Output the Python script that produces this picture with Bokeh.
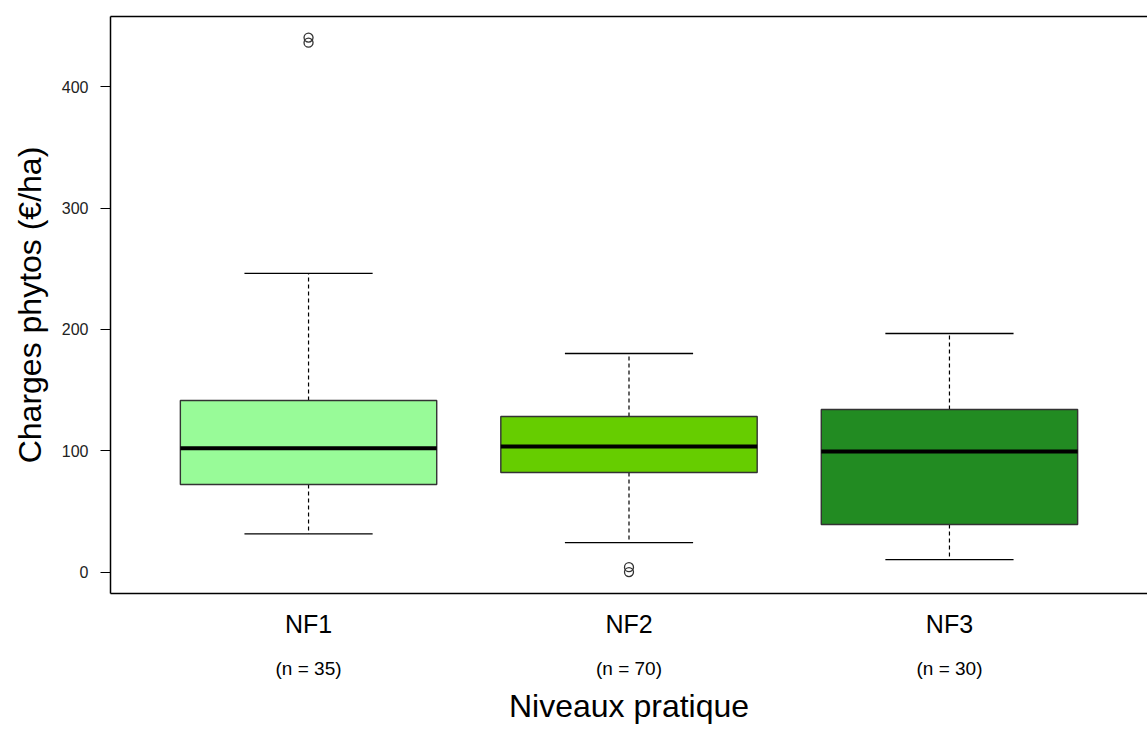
import numpy as np
from bokeh.plotting import figure
from bokeh.models import Range1d, FixedTicker, LinearAxis
from bokeh.embed import file_html
from bokeh.resources import INLINE

# ---- data ----
categories = ["NF1", "NF2", "NF3"]
counts = [35, 70, 30]
positions = [1, 2, 3]
lower_whisker = [31.5, 24.3, 10.3]
q1 = [72.2, 82.1, 39.2]
median = [102.1, 103.5, 99.4]
q3 = [141.4, 128.2, 134.0]
upper_whisker = [246.2, 180.2, 196.7]
box_colors = ["#98FB98", "#66CD00", "#228B22"]
outlier_x = [1, 1, 2, 2]
outlier_y = [436.5, 440.7, 0.0, 4.0]
y_ticks = [0, 100, 200, 300, 400]

FONT = "Liberation Sans"
BOX_W = 0.8
CAP_W = 0.4

p = figure(frame_width=1037, frame_height=577,
           min_border_left=110, min_border_right=0, min_border_top=16, min_border_bottom=0,
           x_range=Range1d(0.382, 3.618), y_range=Range1d(-17.7, 458.1),
           output_backend="svg", toolbar_location=None)
p.outline_line_color = None
p.xgrid.visible = False
p.ygrid.visible = False
p.background_fill_color = "white"
p.border_fill_color = "white"

pos = np.array(positions, dtype=float)

# whiskers (dashed)
p.segment(x0=pos, y0=q3, x1=pos, y1=upper_whisker, line_color="black", line_width=1.2, line_dash="4 3")
p.segment(x0=pos, y0=q1, x1=pos, y1=lower_whisker, line_color="black", line_width=1.2, line_dash="4 3")
# caps
p.segment(x0=pos - CAP_W / 2, y0=upper_whisker, x1=pos + CAP_W / 2, y1=upper_whisker, line_color="black", line_width=1.3)
p.segment(x0=pos - CAP_W / 2, y0=lower_whisker, x1=pos + CAP_W / 2, y1=lower_whisker, line_color="black", line_width=1.3)
# boxes
p.vbar(x=pos, top=q3, bottom=q1, width=BOX_W, fill_color=box_colors, line_color="#333333", line_width=1.4)
# medians
p.segment(x0=pos - BOX_W / 2, y0=median, x1=pos + BOX_W / 2, y1=median, line_color="black", line_width=4, line_cap="butt")
# outliers
p.scatter(outlier_x, outlier_y, marker="circle", size=9, fill_color=None, line_color="#333333", line_width=1.3)

# y axis
ya = p.yaxis[0]
ya.ticker = FixedTicker(ticks=y_ticks)
ya.major_tick_out = 10
ya.major_tick_in = 0
ya.minor_tick_out = 0
ya.minor_tick_in = 0
ya.axis_line_color = "black"
ya.axis_line_width = 1.5
ya.major_tick_line_color = "black"
ya.major_label_text_font = FONT
ya.major_label_text_font_size = "16px"
ya.major_label_text_color = "#222222"
ya.major_label_standoff = 12
ya.major_label_orientation = "horizontal"
ya.axis_label = "Charges phytos (€/ha)"
ya.axis_label_text_font = FONT
ya.axis_label_text_font_size = "32px"
ya.axis_label_text_font_style = "normal"
ya.axis_label_text_color = "black"
ya.axis_label_standoff = 11

# x axis: category names
xa = p.xaxis[0]
xa.ticker = FixedTicker(ticks=positions)
xa.major_label_overrides = {k: v for k, v in zip(positions, categories)}
xa.major_tick_out = 0
xa.major_tick_in = 0
xa.minor_tick_out = 0
xa.minor_tick_in = 0
xa.axis_line_color = "black"
xa.axis_line_width = 1.5
xa.major_label_text_font = FONT
xa.major_label_text_font_size = "25px"
xa.major_label_text_color = "black"
xa.major_label_standoff = 16

# second x axis: counts + title
xa2 = LinearAxis(ticker=FixedTicker(ticks=positions),
                 major_label_overrides={k: "(n = %d)" % n for k, n in zip(positions, counts)},
                 major_tick_out=0, major_tick_in=0, minor_tick_out=0, minor_tick_in=0,
                 axis_line_color=None,
                 major_label_text_font=FONT, major_label_text_font_size="19px",
                 major_label_text_color="black", major_label_standoff=17,
                 axis_label="Niveaux pratique", axis_label_text_font=FONT,
                 axis_label_text_font_size="32px", axis_label_text_font_style="normal",
                 axis_label_text_color="black", axis_label_standoff=6)
p.add_layout(xa2, "below")

# top frame line
ta = LinearAxis(ticker=FixedTicker(ticks=[]), major_tick_out=0, major_tick_in=0,
                minor_tick_out=0, minor_tick_in=0, axis_line_color="black", axis_line_width=1.5,
                major_label_standoff=0)
p.add_layout(ta, "above")

open("out.html", "w").write(file_html(p, INLINE))
